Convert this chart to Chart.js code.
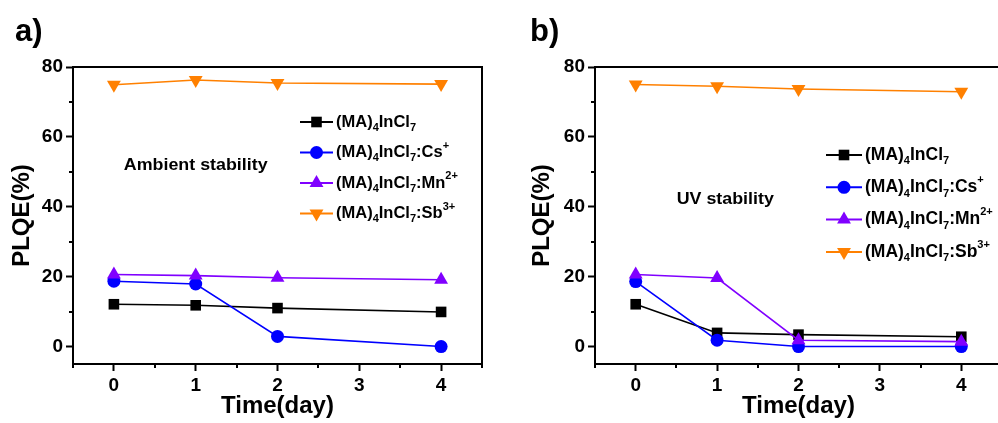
<!DOCTYPE html>
<html>
<head>
<meta charset="utf-8">
<script src="https://cdn.jsdelivr.net/npm/chart.js@4.4.1/dist/chart.umd.min.js"></script>
<style>
	body { margin: 0; background: #fff; overflow: hidden; }
	#wrap { position: relative; width: 998px; height: 423px; overflow: hidden; }
	#chartA { position: absolute; left: 0; top: 0; }
	#chartB { position: absolute; left: 500px; top: 0; }
</style>
</head>
<body>
<div id="wrap">
	<canvas id="chartA" width="500" height="423"></canvas>
	<canvas id="chartB" width="522" height="423"></canvas>
</div>
<script>
const days = [0, 1, 2, 4];
const xTicks = [0, 1, 2, 3, 4];
const xMinor = [-0.5, 0.5, 1.5, 2.5, 3.5, 4.5];
const yTicks = [0, 20, 40, 60, 80];
const yMinor = [10, 30, 50, 70];

// a) ambient stability
const ambPure = [12.1, 11.8, 11.0, 9.9];
const ambCs = [18.7, 17.9, 2.9, 0];
const ambMn = [20.6, 20.3, 19.7, 19.1];
const ambSb = [74.9, 76.3, 75.4, 75.1];

// b) UV stability
const uvPure = [12.1, 3.9, 3.4, 2.8];
const uvCs = [18.6, 1.8, 0, 0];
const uvMn = [20.6, 19.6, 1.8, 1.4];
const uvSb = [75.0, 74.5, 73.7, 72.9];

const seriesNames = ["(MA)4InCl7", "(MA)4InCl7:Cs+", "(MA)4InCl7:Mn2+", "(MA)4InCl7:Sb3+"];
const legendParts = [
	[["(MA)", "n"], ["4", "sub"], ["InCl", "n"], ["7", "sub"]],
	[["(MA)", "n"], ["4", "sub"], ["InCl", "n"], ["7", "sub"], [":Cs", "n"], ["+", "sup"]],
	[["(MA)", "n"], ["4", "sub"], ["InCl", "n"], ["7", "sub"], [":Mn", "n"], ["2+", "sup"]],
	[["(MA)", "n"], ["4", "sub"], ["InCl", "n"], ["7", "sub"], [":Sb", "n"], ["3+", "sup"]],
];
const seriesColors = ["#000000", "#0000ff", "#8000ff", "#ff8000"];
const seriesStyles = ["rect", "circle", "triangle", "triangle"];
const seriesRotation = [0, 0, 0, 180];
const seriesRadius = [7.5, 6.5, 8, 8];

const FONT = "'Liberation Sans', Arial, Helvetica, sans-serif";
Chart.defaults.font.family = FONT;
Chart.defaults.font.weight = "bold";
Chart.defaults.color = "#000";

function drawRichText(ctx, parts, x, y, size) {
	let cx = x;
	const small = Math.round(size * 0.64);
	parts.forEach(([txt, kind]) => {
		ctx.font = `bold ${kind === "n" ? size : small}px ${FONT}`;
		let dy = 0;
		if (kind === "sub") dy = size * 0.36;
		if (kind === "sup") dy = -size * 0.42;
		ctx.fillText(txt, cx, y + dy);
		cx += ctx.measureText(txt).width;
	});
}

const frameAndExtras = {
	id: "frameAndExtras",
	afterDraw(chart, args, opts) {
		const { ctx, chartArea: a, scales } = chart;
		const x = scales.x, y = scales.y;
		ctx.save();
		ctx.strokeStyle = "#000";
		ctx.lineWidth = 2;
		ctx.beginPath();
		// top and right frame lines
		ctx.moveTo(a.left, a.top);
		ctx.lineTo(a.right, a.top);
		ctx.lineTo(a.right, a.bottom);
		// minor ticks
		xMinor.forEach((v) => {
			const px = Math.round(x.getPixelForValue(v));
			ctx.moveTo(px, a.bottom);
			ctx.lineTo(px, a.bottom + 4);
		});
		yMinor.forEach((v) => {
			const py = Math.round(y.getPixelForValue(v));
			ctx.moveTo(a.left, py);
			ctx.lineTo(a.left - 4, py);
		});
		ctx.stroke();

		// panel label
		ctx.fillStyle = "#000";
		ctx.textBaseline = "alphabetic";
		ctx.textAlign = "left";
		ctx.font = `bold 31px ${FONT}`;
		ctx.fillText(opts.panel, opts.panelX, 41);

		// annotation
		ctx.font = `bold 17px ${FONT}`;
		ctx.textAlign = "center";
		ctx.textBaseline = "middle";
		ctx.save();
		ctx.translate(x.getPixelForValue(opts.noteAt[0]), y.getPixelForValue(opts.noteAt[1]));
		ctx.scale(1.05, 1);
		ctx.fillText(opts.note, 0, 0);
		ctx.restore();

		// legend
		ctx.textAlign = "left";
		chart.data.datasets.forEach((ds, i) => {
			const ly = a.top + opts.legendTop + i * opts.legendGap;
			const lx = a.left + opts.legendLeft;
			ctx.strokeStyle = ds.borderColor;
			ctx.lineWidth = 2;
			ctx.beginPath();
			ctx.moveTo(lx, ly);
			ctx.lineTo(lx + opts.legendLine, ly);
			ctx.stroke();
			ctx.fillStyle = ds.borderColor;
			Chart.helpers.drawPoint(ctx, {
				pointStyle: ds.pointStyle,
				rotation: ds.pointRotation,
				radius: ds.pointRadius,
				borderWidth: 0,
			}, lx + opts.legendLine / 2, ly);
			ctx.fillStyle = "#000";
			drawRichText(ctx, legendParts[i], lx + opts.legendLine + 3, ly, opts.legendFont);
		});
		ctx.restore();
	},
};

function makeDatasets(values) {
	return values.map((vals, i) => ({
		label: seriesNames[i],
		data: days.map((d, j) => ({ x: d, y: vals[j] })),
		borderColor: seriesColors[i],
		backgroundColor: seriesColors[i],
		borderWidth: 1.6,
		pointStyle: seriesStyles[i],
		pointRotation: seriesRotation[i],
		pointRadius: seriesRadius[i],
		pointBorderWidth: 0,
		order: values.length - i,
	}));
}

function makeChart(id, values, extras, yWidth, titlePad) {
	return new Chart(document.getElementById(id), {
		type: "line",
		data: { datasets: makeDatasets(values) },
		options: {
			responsive: false,
			animation: false,
			events: [],
			layout: { padding: { top: 67, right: extras.padRight, left: 0, bottom: 0 } },
			plugins: {
				legend: { display: false },
				tooltip: { enabled: false },
				frameAndExtras: extras,
			},
			scales: {
				x: {
					type: "linear",
					min: -0.5,
					max: 4.5,
					afterBuildTicks: (s) => { s.ticks = xTicks.map((v) => ({ value: v })); },
					afterFit: (s) => { s.height = 59; },
					ticks: { font: { size: 19, weight: "bold" }, padding: 3, color: "#000" },
					grid: { drawOnChartArea: false, drawTicks: true, tickLength: 7, tickWidth: 2, tickColor: "#000" },
					border: { display: true, color: "#000", width: 2 },
					title: { display: true, text: "Time(day)", font: { size: 24, weight: "bold" }, color: "#000", padding: { top: 0, bottom: 2 } },
				},
				y: {
					type: "linear",
					min: -5,
					max: 80,
					afterBuildTicks: (s) => { s.ticks = yTicks.map((v) => ({ value: v })); },
					afterFit: (s) => { s.width = yWidth; },
					ticks: { font: { size: 19, weight: "bold" }, padding: 3, color: "#000" },
					grid: { drawOnChartArea: false, drawTicks: true, tickLength: 7, tickWidth: 2, tickColor: "#000" },
					border: { display: true, color: "#000", width: 2 },
					title: { display: true, text: "PLQE(%)", font: { size: 24, weight: "bold" }, color: "#000", padding: { top: titlePad, bottom: 0 } },
				},
			},
		},
		plugins: [frameAndExtras],
	});
}

makeChart("chartA", [ambPure, ambCs, ambMn, ambSb], {
	panel: "a)", panelX: 15, note: "Ambient stability", noteAt: [1.0, 52],
	legendLeft: 227, legendTop: 55, legendGap: 30.5, legendLine: 33, legendFont: 16.5, padRight: 18,
}, 73, 8);

makeChart("chartB", [uvPure, uvCs, uvMn, uvSb], {
	panel: "b)", panelX: 30, note: "UV stability", noteAt: [1.1, 42],
	legendLeft: 231, legendTop: 88, legendGap: 32.3, legendLine: 36, legendFont: 17.5, padRight: 20,
}, 95, 28);
</script>
</body>
</html>
